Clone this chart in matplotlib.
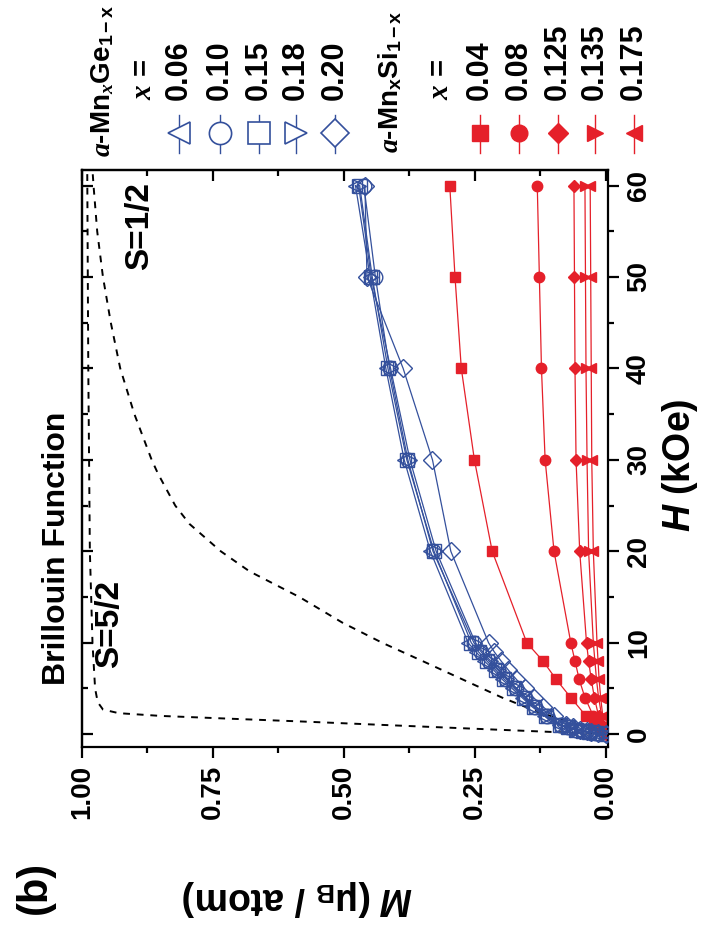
import matplotlib
matplotlib.use("Agg")
import matplotlib.pyplot as plt
from matplotlib.lines import Line2D
from matplotlib.ticker import MultipleLocator, FormatStrFormatter

plt.rcParams['font.family'] = ['Liberation Sans', 'DejaVu Sans']
plt.rcParams['font.weight'] = 'bold'
plt.rcParams['mathtext.fontset'] = 'custom'
plt.rcParams['mathtext.rm'] = 'Liberation Sans:bold'
plt.rcParams['mathtext.bf'] = 'Liberation Sans:bold'
plt.rcParams['mathtext.it'] = 'Liberation Serif:italic:bold'
plt.rcParams['mathtext.sf'] = 'Liberation Sans:italic:bold'

BLUE = '#34509c'
RED = '#e5202a'

# a-MnxGe1-x : field H (kOe) and magnetization M (muB/atom)
h_ge = [0, 0.1, 0.2, 0.3, 0.5, 0.75, 1, 2, 3, 4, 5, 6, 7, 8, 9, 10, 20, 30, 40, 50, 60]
m_ge_006 = [0, .020, .034, .045, .060, .075, .090, .118, .141, .160, .179, .198, .214, .232, .248, .263, .335, .385, .420, .450, .478]
m_ge_010 = [0, .019, .032, .043, .057, .072, .086, .113, .135, .154, .172, .190, .206, .223, .238, .252, .330, .378, .413, .440, .462]
m_ge_015 = [0, .019, .033, .044, .058, .073, .088, .115, .138, .157, .175, .194, .210, .227, .243, .257, .328, .380, .416, .446, .470]
m_ge_018 = [0, .018, .031, .042, .056, .070, .084, .111, .133, .152, .170, .188, .204, .220, .235, .249, .324, .374, .411, .448, .472]
m_ge_020 = [0, .016, .028, .037, .050, .063, .076, .100, .120, .138, .155, .171, .186, .200, .213, .224, .296, .331, .387, .456, .460]

# a-MnxSi1-x
h_si = [0, 0.5, 1, 2, 4, 6, 8, 10, 20, 30, 40, 50, 60]
m_si_004 = [0, .012, .022, .038, .067, .095, .120, .151, .217, .251, .276, .288, .298]
m_si_008 = [0, .006, .012, .024, .040, .051, .059, .067, .099, .116, .123, .127, .131]
m_si_0125 = [0, .004, .008, .014, .022, .028, .033, .037, .050, .057, .059, .060, .061]
m_si_0135 = [0, .002, .004, .008, .014, .018, .021, .024, .033, .036, .038, .039, .040]
m_si_0175 = [0, .002, .003, .006, .010, .013, .015, .017, .024, .027, .028, .029, .030]

# Brillouin function curves
h_b12 = [0, 1, 2.4, 4, 6, 8, 10, 12.2, 15, 17.8, 20, 23, 25, 28.5, 30, 35, 40, 45, 50, 55, 60, 61.7]
m_b12 = [0, .05, .128, .198, .274, .350, .427, .503, .585, .680, .735, .795, .822, .855, .867, .900, .927, .945, .960, .971, .978, .980]
h_b52 = [0, 0.5, 1.0, 1.4, 1.7, 2.0, 2.3, 2.7, 3.5, 5, 10, 20, 40, 61.7]
m_b52 = [0, .21, .42, .585, .72, .85, .93, .96, .97, .975, .98, .985, .988, .99]

ge_labels = ['0.06', '0.10', '0.15', '0.18', '0.20']
ge_markers = ['<', 'o', 's', '>', 'D']
ge_values = [m_ge_006, m_ge_010, m_ge_015, m_ge_018, m_ge_020]
si_labels = ['0.04', '0.08', '0.125', '0.135', '0.175']
si_markers = ['s', 'o', 'D', '>', '<']
si_values = [m_si_004, m_si_008, m_si_0125, m_si_0135, m_si_0175]

W, H = 703, 936
fig = plt.figure(figsize=(W / 100, H / 100), dpi=100)


def fx(x):
    return x / W


def fy(y):
    return 1 - y / H


ax = fig.add_axes([fx(82), fy(747), (608 - 82) / W, (747 - 170) / H])

ax.plot(m_b12, h_b12, ls=(0, (3.5, 3.5)), color='black', lw=1.4, zorder=1)
ax.plot(m_b52, h_b52, ls=(0, (3.5, 3.5)), color='black', lw=1.4, zorder=1)

for m, mk in zip(si_values, si_markers):
    ms = 6.5 if mk == 'D' else 7.5
    ax.plot(m, h_si, color=RED, lw=0.9, marker=mk, ms=ms, mfc=RED, mec=RED, zorder=2)

for m, mk in zip(ge_values, ge_markers):
    ms = 9 if mk == 'D' else 10.5
    ax.plot(m, h_ge, color=BLUE, lw=0.9, marker=mk, ms=ms, mfc='none', mec=BLUE, mew=1.0, zorder=3)

ax.set_xlim(1.0, -0.004)
ax.set_ylim(-1.4, 61.7)

for s in ax.spines.values():
    s.set_linewidth(1.6)

ax.xaxis.set_ticks_position('bottom')
ax.yaxis.set_ticks_position('right')
ax.xaxis.set_major_locator(MultipleLocator(0.25))
ax.xaxis.set_minor_locator(MultipleLocator(0.125))
ax.xaxis.set_major_formatter(FormatStrFormatter('%.2f'))
ax.set_yticks([0, 10, 20, 30, 40, 50, 60])
ax.yaxis.set_minor_locator(MultipleLocator(5))
ax.tick_params(which='major', direction='out', length=8, width=1.6, labelsize=20, pad=5)
ax.tick_params(which='minor', direction='out', length=4.5, width=1.6)
ax.tick_params(axis='x', labelrotation=90)
ax.tick_params(axis='y', labelrotation=90)
for t in ax.yaxis.get_major_ticks():
    t.label2.set_va('center')
    t.label2.set_ha('left')

sx = ax.secondary_xaxis('top')
sx.xaxis.set_major_locator(MultipleLocator(0.25))
sx.xaxis.set_minor_locator(MultipleLocator(0.125))
sx.tick_params(which='major', direction='in', length=8, width=1.6, labeltop=False)
sx.tick_params(which='minor', direction='in', length=4.5, width=1.6)
sx.spines['top'].set_linewidth(1.6)

sy = ax.secondary_yaxis('left')
sy.set_yticks([0, 10, 20, 30, 40, 50, 60])
sy.yaxis.set_minor_locator(MultipleLocator(5))
sy.tick_params(which='major', direction='in', length=8, width=1.6, labelleft=False)
sy.tick_params(which='minor', direction='in', length=4.5, width=1.6)
sy.spines['left'].set_linewidth(1.6)

# axis labels and annotations (figure is drawn rotated)
fig.text(fx(298), fy(898), r'$\mathsf{M}$ (μ$_{\mathrm{B}}$ / atom)', rotation=180,
         ha='center', va='center', fontsize=27)
fig.text(fx(680), fy(465), r'$\mathsf{H}$ (kOe)', rotation=90,
         ha='center', va='center', fontsize=27)
fig.text(fx(35), fy(887), '(b)', rotation=90, ha='center', va='center', fontsize=30)
fig.text(fx(57), fy(685), 'Brillouin Function', rotation=90, ha='center', va='bottom', fontsize=23)
fig.text(fx(110), fy(668), 'S=5/2', rotation=90, ha='center', va='bottom', fontsize=24)
fig.text(fx(140), fy(182), 'S=1/2', rotation=90, ha='center', va='top', fontsize=24)

# legend
fig.text(fx(103), fy(157), r'$a$-Mn$_{x}$Ge$_{\mathrm{1-x}}$', rotation=90,
         ha='center', va='bottom', fontsize=20)
fig.text(fx(143), fy(100), r'$x$ =', rotation=90, ha='center', va='bottom', fontsize=21)
fig.text(fx(390), fy(153), r'$a$-Mn$_{\mathrm{x}}$Si$_{\mathrm{1-x}}$', rotation=90,
         ha='center', va='bottom', fontsize=20)
fig.text(fx(440), fy(100), r'$x$ =', rotation=90, ha='center', va='bottom', fontsize=21)

ge_leg_x = [179, 220, 259, 296, 335]
si_leg_x = [480, 519, 558, 595, 634]

for x, lab, mk in zip(ge_leg_x, ge_labels, ge_markers):
    fig.add_artist(Line2D([fx(x), fx(x)], [fy(115), fy(153)], color=BLUE, lw=1.0))
    fig.add_artist(Line2D([fx(x)], [fy(133)], marker=mk, ms=14 if mk == 'D' else 16,
                          mfc='white', mec=BLUE, mew=1.2, color=BLUE))
    fig.text(fx(x), fy(100), lab, rotation=90, ha='center', va='bottom', fontsize=22)

for x, lab, mk in zip(si_leg_x, si_labels, si_markers):
    fig.add_artist(Line2D([fx(x), fx(x)], [fy(115), fy(153)], color=RED, lw=1.0))
    fig.add_artist(Line2D([fx(x)], [fy(133)], marker=mk, ms=10 if mk == 'D' else 12,
                          mfc=RED, mec=RED, color=RED))
    fig.text(fx(x), fy(100), lab, rotation=90, ha='center', va='bottom', fontsize=22)

fig.savefig('out.png', dpi=100)
